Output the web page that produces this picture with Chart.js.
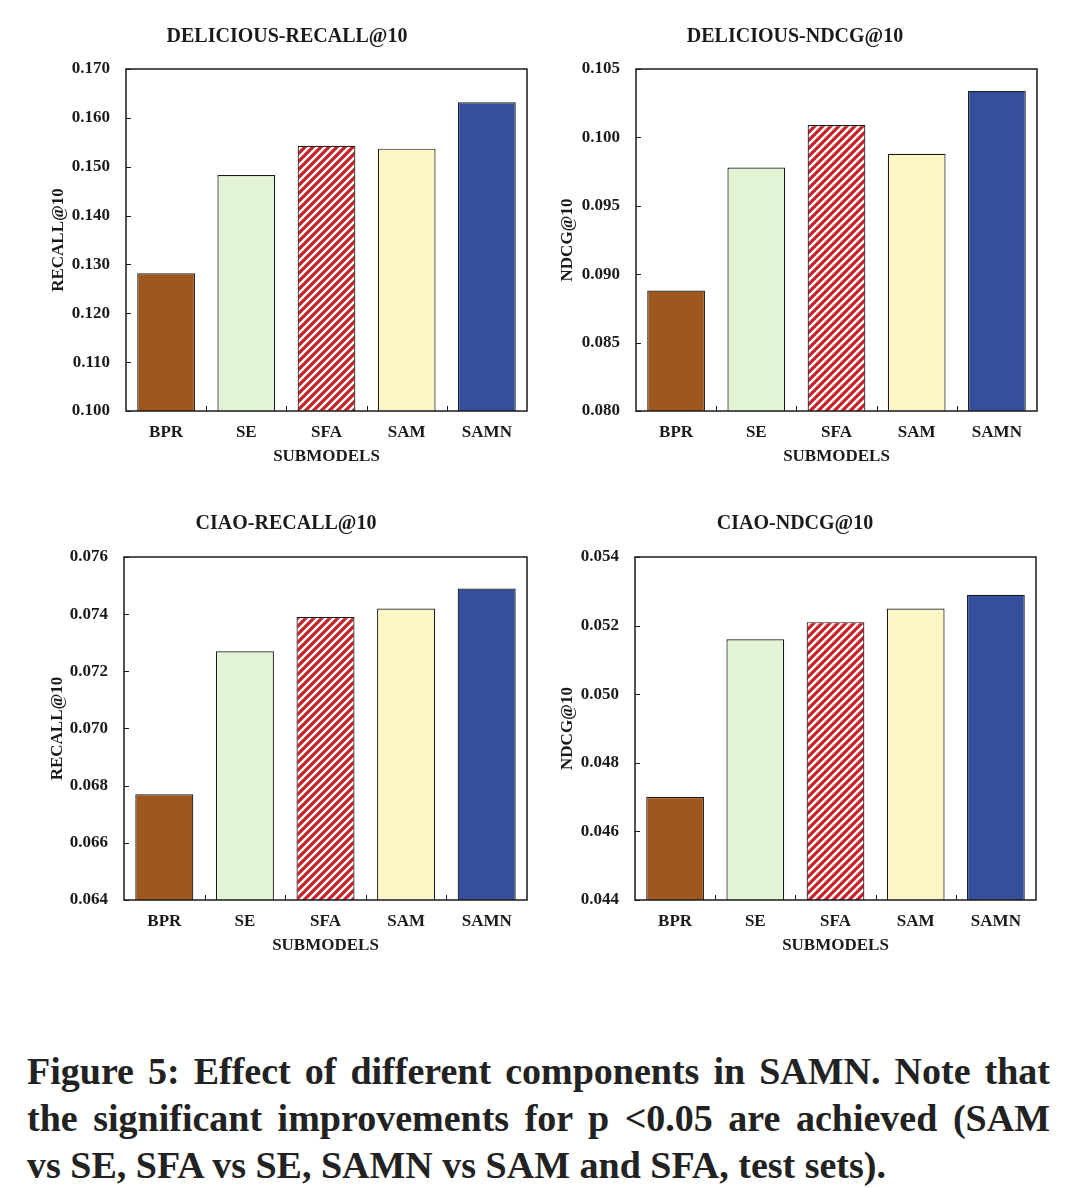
<!DOCTYPE html>
<html>
<head>
<meta charset="utf-8">
<script src="https://cdn.jsdelivr.net/npm/chart.js@4.4.1/dist/chart.umd.min.js"></script>
<style>
  html, body { margin: 0; padding: 0; background: #fff; }
  body { width: 1073px; height: 1188px; position: relative; overflow: hidden; }
  .panel { position: absolute; }
  .caption {
    position: absolute; left: 27px; top: 1048px; width: 1023px;
    font-family: "Liberation Serif", serif; font-weight: bold; font-size: 38px;
    line-height: 47px; color: #222;
  }
  .caption div { white-space: nowrap; }
  .caption .j { text-align: justify; text-align-last: justify; white-space: normal; }
</style>
</head>
<body>
<div class="panel" id="p1" style="left:0px;top:0px;width:537px;height:480px"><canvas id="c1"></canvas></div>
<div class="panel" id="p2" style="left:537px;top:0px;width:510px;height:480px"><canvas id="c2"></canvas></div>
<div class="panel" id="p3" style="left:0px;top:488px;width:537px;height:481px"><canvas id="c3"></canvas></div>
<div class="panel" id="p4" style="left:537px;top:488px;width:509px;height:481px"><canvas id="c4"></canvas></div>
<div class="caption">
  <div class="j">Figure 5: Effect of different components in SAMN. Note that</div>
  <div class="j">the significant improvements for p &lt;0.05 are achieved (SAM</div>
  <div>vs SE, SFA vs SE, SAMN vs SAM and SFA, test sets).</div>
</div>
<script>
const submodels = ["BPR", "SE", "SFA", "SAM", "SAMN"];

const deliciousRecall = [0.1282, 0.1483, 0.1543, 0.1537, 0.1632];
const deliciousNdcg = [0.0888, 0.0978, 0.1009, 0.0988, 0.1034];
const ciaoRecall = [0.0677, 0.0727, 0.0739, 0.0742, 0.0749];
const ciaoNdcg = [0.0470, 0.0516, 0.0521, 0.0525, 0.0529];

const deliciousRecallTicks = [0.100, 0.110, 0.120, 0.130, 0.140, 0.150, 0.160, 0.170];
const deliciousNdcgTicks = [0.080, 0.085, 0.090, 0.095, 0.100, 0.105];
const ciaoRecallTicks = [0.064, 0.066, 0.068, 0.070, 0.072, 0.074, 0.076];
const ciaoNdcgTicks = [0.044, 0.046, 0.048, 0.050, 0.052, 0.054];

const FONT = "'Liberation Serif', 'Times New Roman', serif";
const INK = "#1a1a1a";

function makeHatch() {
  const tile = document.createElement("canvas");
  tile.width = 8;
  tile.height = 8;
  const t = tile.getContext("2d");
  t.fillStyle = "#c9202a";
  t.fillRect(0, 0, 8, 8);
  t.strokeStyle = "#ffffff";
  t.lineWidth = 2.4;
  t.beginPath();
  t.moveTo(-2, 10); t.lineTo(10, -2);
  t.moveTo(-6, 6); t.lineTo(6, -6);
  t.moveTo(2, 14); t.lineTo(14, 2);
  t.stroke();
  return t.createPattern(tile, "repeat");
}

const hatch = makeHatch();
const barColors = ["#a0571e", "#e2f3d6", hatch, "#fcf5c6", "#34509c"];

const frameTicks = {
  id: "frameTicks",
  afterDatasetsDraw(chart) {
    const { ctx, chartArea: a, scales } = chart;
    ctx.save();
    ctx.strokeStyle = INK;
    ctx.lineWidth = 1;
    ctx.beginPath();
    scales.y.ticks.forEach((t) => {
      const y = Math.round(scales.y.getPixelForValue(t.value)) + 0.5;
      ctx.moveTo(a.left, y);
      ctx.lineTo(a.left + 5, y);
    });
    const n = scales.x.ticks.length;
    for (let i = 1; i < n; i++) {
      const x = Math.round((scales.x.getPixelForTick(i - 1) + scales.x.getPixelForTick(i)) / 2) + 0.5;
      ctx.moveTo(x, a.bottom);
      ctx.lineTo(x, a.bottom - 5);
    }
    ctx.stroke();
    ctx.lineWidth = 1.5;
    ctx.strokeRect(a.left, a.top, a.right - a.left, a.bottom - a.top);
    ctx.restore();
  },
};

function buildChart(id, cfg) {
  const ticks = cfg.ticks;
  return new Chart(document.getElementById(id), {
    type: "bar",
    data: {
      labels: submodels,
      datasets: [{
        data: cfg.values,
        backgroundColor: barColors,
        borderColor: INK,
        borderWidth: 1.2,
        barPercentage: 0.72,
        categoryPercentage: 1,
      }],
    },
    options: {
      responsive: true,
      maintainAspectRatio: false,
      animation: false,
      layout: { padding: { left: cfg.padLeft, right: 10, top: 0, bottom: 9 } },
      plugins: {
        legend: { display: false },
        tooltip: { enabled: false },
        title: {
          display: true,
          text: cfg.title,
          color: INK,
          font: { family: FONT, size: 20, weight: "bold" },
          padding: { top: cfg.titleTop, bottom: cfg.titleBottom },
        },
      },
      scales: {
        x: {
          grid: { display: false, drawTicks: false },
          border: { display: false },
          ticks: { color: INK, padding: 11, font: { family: FONT, size: 17, weight: "bold" } },
          title: {
            display: true,
            text: "SUBMODELS",
            color: INK,
            font: { family: FONT, size: 17, weight: "bold" },
            padding: { top: 0, bottom: 4 },
          },
          afterFit(scale) { scale.height = 60; },
        },
        y: {
          min: ticks[0],
          max: ticks[ticks.length - 1],
          grid: { display: false, drawTicks: false },
          border: { display: false },
          afterBuildTicks(scale) { scale.ticks = ticks.map((v) => ({ value: v })); },
          ticks: {
            color: INK,
            padding: 16,
            font: { family: FONT, size: 17, weight: "bold" },
            callback: (v) => Number(v).toFixed(3),
          },
          title: {
            display: true,
            text: cfg.yTitle,
            color: INK,
            font: { family: FONT, size: 17, weight: "bold" },
            padding: { top: cfg.yTitlePad, bottom: 0 },
          },
          afterFit(scale) { scale.width = cfg.yWidth; },
        },
      },
    },
    plugins: [frameTicks],
  });
}

buildChart("c1", { title: "DELICIOUS-RECALL@10", yTitle: "RECALL@10", values: deliciousRecall, ticks: deliciousRecallTicks,
  padLeft: 47, yWidth: 79, yTitlePad: 1, titleTop: 25, titleBottom: 20 });
buildChart("c2", { title: "DELICIOUS-NDCG@10", yTitle: "NDCG@10", values: deliciousNdcg, ticks: deliciousNdcgTicks,
  padLeft: 16, yWidth: 83, yTitlePad: 4, titleTop: 25, titleBottom: 20 });
buildChart("c3", { title: "CIAO-RECALL@10", yTitle: "RECALL@10", values: ciaoRecall, ticks: ciaoRecallTicks,
  padLeft: 45, yWidth: 79, yTitlePad: 2, titleTop: 24, titleBottom: 21 });
buildChart("c4", { title: "CIAO-NDCG@10", yTitle: "NDCG@10", values: ciaoNdcg, ticks: ciaoNdcgTicks,
  padLeft: 17, yWidth: 81, yTitlePad: 3, titleTop: 24, titleBottom: 21 });
</script>
</body>
</html>
